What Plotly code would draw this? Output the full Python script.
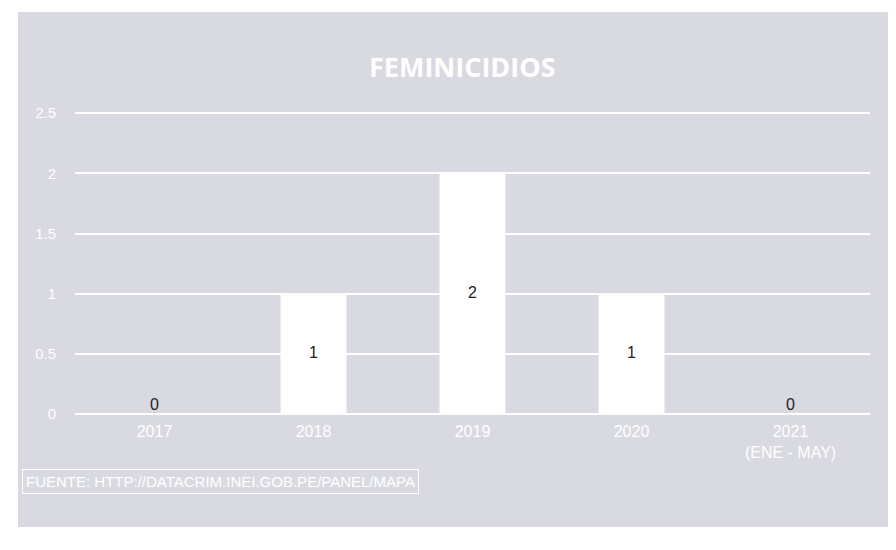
import plotly.graph_objects as go

categories = ["2017", "2018", "2019", "2020", "2021<br>(ENE - MAY)"]
values = [0, 1, 2, 1, 0]
y_ticks = [0, 0.5, 1, 1.5, 2, 2.5]
y_tick_labels = ["0", "0.5", "1", "1.5", "2", "2.5"]
title_text = "FEMINICIDIOS"
source_text = "FUENTE: HTTP://DATACRIM.INEI.GOB.PE/PANEL/MAPA"
page_heading = "Feminicidios"

PANEL = "#d9d9e2"
OFF = 8  # page body margin
W, H = 896 - OFF, 550 - OFF
# plot area in page pixels
PL, PR, PT, PB = 75, 870, 112, 414
ML, MR, MT, MB = PL - OFF, W - (PR - OFF), PT - OFF, H - (PB - OFF)
PW, PH = W - ML - MR, H - MT - MB


def px_x(x):
    return (x - OFF - ML) / PW


def px_y(y):
    return (H - MB - (y - OFF)) / PH


fig = go.Figure()
fig.add_trace(go.Bar(
    x=categories, y=values,
    marker=dict(color="white", line=dict(width=0)),
    hoverinfo="x+y",
))
fig.add_trace(go.Scatter(
    x=categories, y=[v / 2 for v in values],
    mode="text", text=[str(v) for v in values],
    textposition=["top center" if v == 0 else "middle center" for v in values],
    textfont=dict(color="#222222", size=16, family="Liberation Sans, Arial, sans-serif"),
    hoverinfo="skip",
))

fig.add_shape(type="rect", xref="paper", yref="paper",
              x0=px_x(18), x1=px_x(905), y0=px_y(527), y1=px_y(12),
              fillcolor=PANEL, line=dict(width=0), layer="below")

fig.add_annotation(xref="paper", yref="paper", x=px_x(462), y=px_y(66),
                   xanchor="center", yanchor="middle",
                   text="<b>" + title_text + "</b>", showarrow=False,
                   font=dict(color="white", size=27, family="Open Sans, Liberation Sans, sans-serif"))
fig.add_annotation(xref="paper", yref="paper", x=px_x(220), y=px_y(481),
                   xanchor="center", yanchor="middle",
                   text=source_text, showarrow=False,
                   bordercolor="white", borderwidth=1, borderpad=3,
                   font=dict(color="white", size=15, family="Liberation Sans Narrow, Liberation Sans, sans-serif"))
fig.add_annotation(xref="paper", yref="paper", x=px_x(28), y=px_y(11),
                   xanchor="left", yanchor="bottom",
                   text="<b>" + page_heading + "</b>", showarrow=False,
                   font=dict(color="black", size=28, family="Liberation Sans, Arial, sans-serif"))

fig.update_layout(
    width=W, height=H,
    margin=dict(l=ML, r=MR, t=MT, b=MB),
    paper_bgcolor="white", plot_bgcolor="rgba(0,0,0,0)",
    bargap=0.585, showlegend=False,
    font=dict(family="Liberation Sans, Arial, sans-serif"),
)
fig.update_xaxes(showgrid=False, zeroline=False, showline=False,
                 tickfont=dict(color="white", size=16), ticks="", ticklabelstandoff=6)
fig.update_yaxes(range=[0, 2.51], tickvals=y_ticks, ticktext=y_tick_labels,
                 showgrid=True, gridcolor="white", gridwidth=2,
                 zeroline=True, zerolinecolor="white", zerolinewidth=2,
                 showline=False, ticks="", ticklabelstandoff=18,
                 tickfont=dict(color="white", size=15))

fig.write_html("out.html")
